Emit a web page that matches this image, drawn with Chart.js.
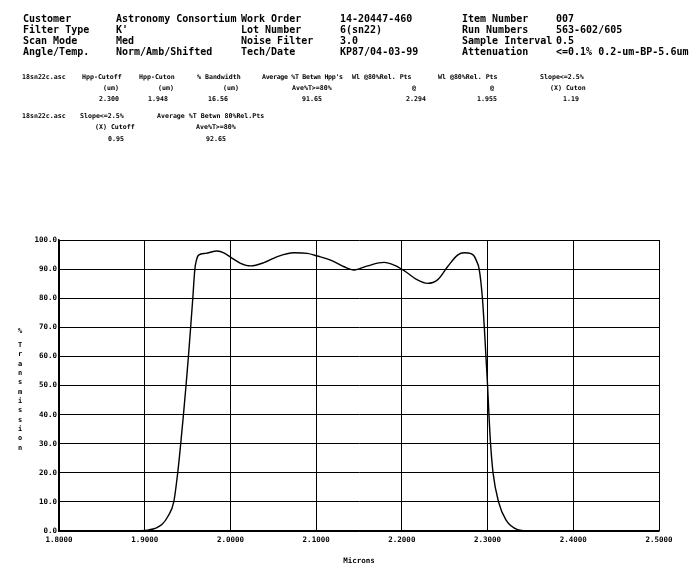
<!DOCTYPE html>
<html>
<head>
<meta charset="utf-8">
<script src="https://cdn.jsdelivr.net/npm/chart.js@4"></script>
<style>
  body { margin: 0; background: #fff; }
  #page { position: relative; width: 694px; height: 580px; overflow: hidden; }
  #page canvas { position: absolute; left: 0; top: 0; }
  .t { position: absolute; white-space: pre; font-family: "DejaVu Sans Mono", monospace; font-weight: bold; color: #000; line-height: 1; }
  .big { font-size: 10px; }
  .small { font-size: 6.6px; }
  .tight { letter-spacing: -0.3px; }
</style>
</head>
<body>
<div id="page">
  <canvas id="scan" width="694" height="580"></canvas>
</div>
<script>
// Datos del barrido (micras vs % transmisión)
const microns = [1.80, 1.88, 1.895, 1.905, 1.913, 1.920, 1.927, 1.9339, 1.9385, 1.9420, 1.9452, 1.9482,
  1.9510, 1.9536, 1.9561, 1.9585, 1.9603, 1.9628, 1.9709, 1.9846, 1.9923, 2.0021, 2.0118,
  2.0235, 2.0390, 2.0547, 2.0741, 2.0897, 2.1014, 2.1169, 2.1325, 2.1442, 2.1598, 2.1792,
  2.1909, 2.2026, 2.2182, 2.2299, 2.2416, 2.2533, 2.2650, 2.2727, 2.2806, 2.2843, 2.2868,
  2.2902, 2.2940, 2.2962, 2.2981, 2.3000, 2.3016, 2.3035, 2.3064, 2.3128, 2.3214, 2.335, 2.3505, 2.50];
const transmission = [0.0, 0.0, 0.1, 0.4, 1.0, 2.2, 5.0, 10, 20, 30, 40, 50,
  60, 70, 80, 90, 93, 94.8, 95.4, 96.2, 95.6, 93.7, 92.0,
  91.1, 92.2, 94.3, 95.6, 95.4, 94.5, 93.1, 90.8, 89.7, 91.1, 92.3,
  91.4, 89.5, 86.3, 85.1, 86.3, 90.8, 94.8, 95.6, 95.3, 94.5, 93,
  90, 80, 70, 60, 50, 40, 30, 20, 10, 3.8, 0.5, 0.0, 0.0];
const xTicks = [1.8, 1.9, 2.0, 2.1, 2.2, 2.3, 2.4, 2.5];
const yTicks = [0, 10, 20, 30, 40, 50, 60, 70, 80, 90, 100];
const yTitle = '% Transmission';

// Cabecera del informe
const header = [
  ['Customer', 23, 14], ['Astronomy Consortium', 116, 14], ['Work Order', 241, 14], ['14-20447-460', 340, 14], ['Item Number', 462, 14], ['007', 556, 14],
  ['Filter Type', 23, 25], ["K'", 116, 25], ['Lot Number', 241, 25], ['6(sn22)', 340, 25], ['Run Numbers', 462, 25], ['563-602/605', 556, 25],
  ['Scan Mode', 23, 36], ['Med', 116, 36], ['Noise Filter', 241, 36], ['3.0', 340, 36], ['Sample Interval', 462, 36], ['0.5', 556, 36],
  ['Angle/Temp.', 23, 47], ['Norm/Amb/Shifted', 116, 47], ['Tech/Date', 241, 47], ['KP87/04-03-99', 340, 47], ['Attenuation', 462, 47], ['<=0.1% 0.2-um-BP-5.6um', 556, 47]
];
const summary = [
  ['18sn22c.asc', 22, 74], ['Hpp-Cutoff', 82, 74], ['Hpp-Cuton', 139, 74], ['% Bandwidth', 197, 74], ["Average %T Betwn Hpp's", 262, 74, 'tight'],
  ['Wl @80%Rel. Pts', 352, 74], ['Wl @80%Rel. Pts', 438, 74], ['Slope<=2.5%', 540, 74],
  ['(um)', 103, 85], ['(um)', 158, 85], ['(um)', 223, 85], ['Ave%T>=80%', 292, 85], ['@', 412, 85], ['@', 490, 85], ['(X) Cuton', 550, 85],
  ['2.300', 99, 96], ['1.948', 148, 96], ['16.56', 208, 96], ['91.65', 302, 96], ['2.294', 406, 96], ['1.955', 477, 96], ['1.19', 563, 96],
  ['18sn22c.asc', 22, 113], ['Slope<=2.5%', 80, 113], ['Average %T Betwn 80%Rel.Pts', 157, 113],
  ['(X) Cutoff', 95, 124], ['Ave%T>=80%', 196, 124],
  ['0.95', 108, 136], ['92.65', 206, 136]
];

const page = document.getElementById('page');
function addText(rows, cls) {
  rows.forEach(r => {
    const d = document.createElement('div');
    d.className = 't ' + cls + (r[3] ? ' ' + r[3] : '');
    d.textContent = r[0];
    d.style.left = r[1] + 'px';
    d.style.top = r[2] + 'px';
    page.appendChild(d);
  });
}
addText(header, 'big');
addText(summary, 'small');

// Título vertical del eje Y, letra por letra
const stackedTitle = {
  id: 'stackedTitle',
  afterDraw(chart) {
    const ctx = chart.ctx;
    ctx.save();
    ctx.font = 'bold 7px "DejaVu Sans Mono"';
    ctx.fillStyle = '#000';
    ctx.textAlign = 'center';
    ctx.textBaseline = 'middle';
    let y = 331;
    for (const ch of yTitle) {
      if (ch !== ' ') ctx.fillText(ch, 20, y);
      y += (ch === '%' || ch === ' ') ? 7 : 9.35;
    }
    ctx.restore();
  }
};

const tickFont = { family: 'DejaVu Sans Mono', size: 7.5, weight: 'bold' };

new Chart(document.getElementById('scan'), {
  type: 'line',
  data: {
    datasets: [{
      data: microns.map((x, i) => ({ x: x, y: transmission[i] })),
      borderColor: '#000',
      borderWidth: 1.4,
      pointRadius: 0,
      cubicInterpolationMode: 'monotone',
      fill: false
    }]
  },
  options: {
    responsive: false,
    animation: false,
    layout: { padding: { top: 240, left: 0, right: 35, bottom: 0 } },
    plugins: { legend: { display: false }, tooltip: { enabled: false } },
    scales: {
      x: {
        type: 'linear',
        min: 1.8,
        max: 2.5,
        afterBuildTicks: s => { s.ticks = xTicks.map(v => ({ value: v })); },
        afterFit: s => { s.height = 49; },
        ticks: { color: '#000', font: tickFont, padding: 5, maxRotation: 0, autoSkip: false,
          callback: v => Number(v).toFixed(4) },
        grid: { color: '#000', lineWidth: 1, drawTicks: false },
        border: { display: true, color: '#000', width: 1.5 },
        title: { display: true, text: 'Microns', color: '#000', font: { family: 'DejaVu Sans Mono', size: 7.5, weight: 'bold' }, padding: { top: 0, bottom: 14 } }
      },
      y: {
        min: 0,
        max: 100,
        afterBuildTicks: s => { s.ticks = yTicks.map(v => ({ value: v })); },
        afterFit: s => { s.width = 59; },
        ticks: { color: '#000', font: tickFont, padding: 2, autoSkip: false,
          callback: v => Number(v).toFixed(1) },
        grid: { color: '#000', lineWidth: 1, drawTicks: false },
        border: { display: true, color: '#000', width: 1.5 }
      }
    }
  },
  plugins: [stackedTitle]
});
</script>
</body>
</html>
